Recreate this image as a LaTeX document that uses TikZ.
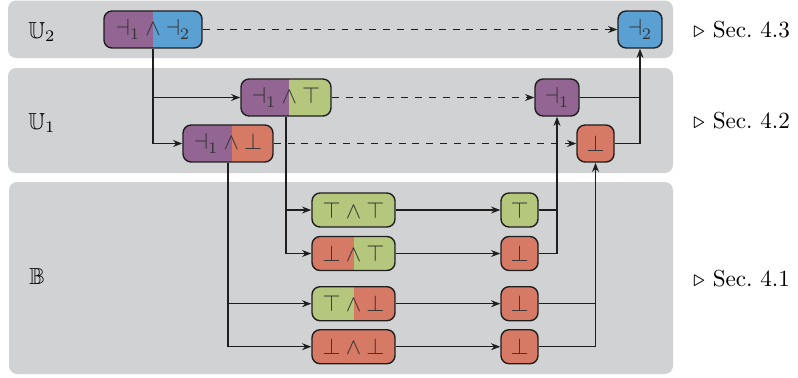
\documentclass[tikz,border=0pt]{standalone}
\usepackage{amssymb}
\usetikzlibrary{arrows.meta}
\definecolor{panelgray}{RGB}{209,210,212}
\definecolor{cpurple}{RGB}{146,101,146}
\definecolor{cblue}{RGB}{90,160,210}
\definecolor{cgreen}{RGB}{181,199,125}
\definecolor{cred}{RGB}{214,121,101}
\definecolor{linec}{RGB}{30,30,30}
\newcommand{\ua}[1]{{\dashv}_{#1}}
\begin{document}
\begin{tikzpicture}[x=0.4323pt,y=-0.4323pt,
  panel/.style={fill=panelgray, rounded corners=3.5pt},
  val/.style={draw=linec, line width=0.6pt, rounded corners=3.5pt, inner sep=0pt,
              minimum height=16pt, text=black!80},
  bval/.style={val, minimum height=14.7pt},
  twofill/.style n args={3}{path picture={
      \fill[#1, sharp corners] (path picture bounding box.south west) rectangle ([xshift=#3]path picture bounding box.north);
      \fill[#2, sharp corners] ([xshift=#3]path picture bounding box.south) rectangle (path picture bounding box.north east);}},
  wire/.style={draw=linec, line width=0.5pt},
  arr/.style={wire, -{Stealth[length=4pt,width=3pt]}},
  dwire/.style={arr, dashed},
  lbl/.style={anchor=base west, inner sep=0pt}
]
\useasboundingbox (0,0) rectangle (798,377);

% level panels
\fill[panel] (8,0.5) rectangle (673,58);
\fill[panel] (8,68) rectangle (673,173);
\fill[panel] (9,182) rectangle (673,374);

% level names and section references
\node[lbl] (lu2) at (28,38) {$\mathbb{U}_2$};
\node[lbl] (lu1) at (28,129.3) {$\mathbb{U}_1$};
\node[lbl] (lb)  at (29,284) {$\mathbb{B}$};
\node[lbl] (s3) at (693,37.5) {$\triangleright$ Sec.~4.3};
\node[lbl] (s2) at (693,128.3) {$\triangleright$ Sec.~4.2};
\node[lbl] (s1) at (693,286) {$\triangleright$ Sec.~4.1};

% U2
\node[val, twofill={cpurple}{cblue}{0pt}, minimum width=42.4pt] (t1) at (153,29.5) {$\ua{1} \wedge \ua{2}$};
\node[val, fill=cblue, minimum width=19pt] (t2) at (640,29.5) {$\ua{2}$};

% U1
\node[val, twofill={cpurple}{cgreen}{1.3pt}, minimum width=38.9pt] (u1a) at (286,97.5) {$\ua{1} \wedge \top$};
\node[val, fill=cpurple, minimum width=19pt] (u1c) at (557,97.5) {$\ua{1}$};
\node[val, twofill={cpurple}{cred}{1.7pt}, minimum width=38.9pt] (u1b) at (228,143.5) {$\ua{1} \wedge \bot$};
\node[val, fill=cred, minimum width=16pt] (u1d) at (595.5,143.5) {$\bot$};

% B
\node[bval, fill=cgreen, minimum width=35.9pt] (b1l) at (353.5,210) {$\top \wedge \top$};
\node[bval, twofill={cred}{cgreen}{0pt}, minimum width=35.9pt] (b2l) at (353.5,253.5) {$\bot \wedge \top$};
\node[bval, twofill={cgreen}{cred}{0pt}, minimum width=35.9pt] (b3l) at (353.5,303.7) {$\top \wedge \bot$};
\node[bval, fill=cred, minimum width=35.9pt] (b4l) at (353.5,346.7) {$\bot \wedge \bot$};
\node[bval, fill=cgreen, minimum width=16pt] (b1r) at (519.5,210) {$\top$};
\node[bval, fill=cred, minimum width=16pt] (b2r) at (519.5,253.5) {$\bot$};
\node[bval, fill=cred, minimum width=16pt] (b3r) at (519.5,303.7) {$\bot$};
\node[bval, fill=cred, minimum width=16pt] (b4r) at (519.5,346.7) {$\bot$};

% splitting downwards
\draw[arr] (t1.south) |- (u1a.west);
\draw[arr] (t1.south) |- (u1b.west);
\draw[arr] (u1a.south) |- (b1l.west);
\draw[arr] (u1a.south) |- (b2l.west);
\draw[arr] (u1b.south) |- (b3l.west);
\draw[arr] (u1b.south) |- (b4l.west);

% evaluation within a level
\draw[dwire] (t1) -- (t2);
\draw[dwire] (u1a) -- (u1c);
\draw[dwire] (u1b) -- (u1d);
\draw[arr] (b1l) -- (b1r);
\draw[arr] (b2l) -- (b2r);
\draw[arr] (b3l) -- (b3r);
\draw[arr] (b4l) -- (b4r);

% joining upwards
\draw[wire] (b1r.east) -- (b1r.east -| u1c.south);
\draw[arr] (b2r.east) -| (u1c.south);
\draw[wire] (b3r.east) -- (b3r.east -| u1d.south);
\draw[arr] (b4r.east) -| (u1d.south);
\draw[wire] (u1c.east) -- (u1c.east -| t2.south);
\draw[arr] (u1d.east) -| (t2.south);
\end{tikzpicture}
\end{document}
